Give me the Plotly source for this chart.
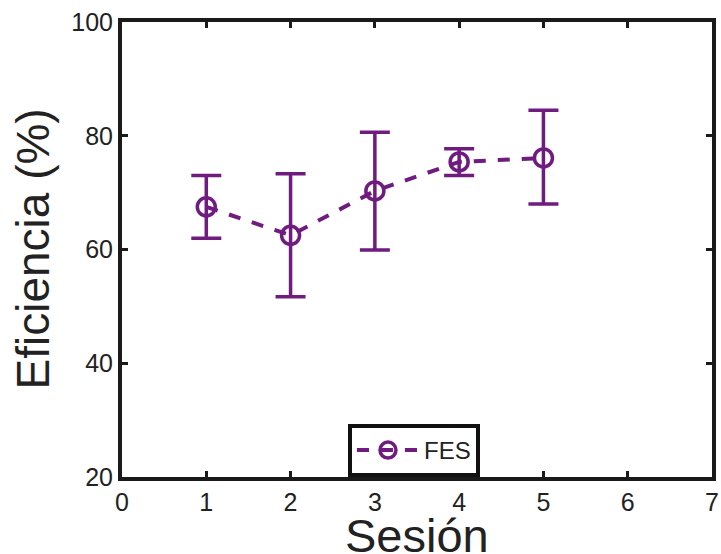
import plotly.graph_objects as go

sessions = [1, 2, 3, 4, 5]
efficiency = [67.5, 62.5, 70.3, 75.4, 76.1]
err_upper = [73.0, 73.3, 80.6, 77.7, 84.5]
err_lower = [62.0, 51.7, 59.9, 73.0, 68.0]
x_ticks = [0, 1, 2, 3, 4, 5, 6, 7]
y_ticks = [20, 40, 60, 80, 100]

color = "#701B80"
font_family = "Liberation Sans, Arial"
plus = [u - m for u, m in zip(err_upper, efficiency)]
minus = [m - l for m, l in zip(efficiency, err_lower)]

fig = go.Figure()
fig.add_trace(go.Scatter(
    x=sessions, y=efficiency, name="FES", mode="lines+markers",
    line=dict(color=color, width=4, dash="dash"),
    marker=dict(symbol="circle-open", size=18, color=color, line=dict(width=3.5, color=color)),
    error_y=dict(type="data", symmetric=False, array=plus, arrayminus=minus,
                 color=color, thickness=3.5, width=15),
))

axis_common = dict(showline=True, linecolor="#1a1a1a", linewidth=4, mirror="allticks",
                   ticks="inside", ticklen=6, tickwidth=3, tickcolor="#1a1a1a",
                   showgrid=False, zeroline=False, automargin=False,
                   tickfont=dict(family=font_family, size=25, color="#222"))

fig.update_layout(
    width=721, height=554,
    margin=dict(l=122, r=9, t=22, b=77),
    paper_bgcolor="white", plot_bgcolor="white",
    showlegend=True,
    legend=dict(x=0.383, y=0.1165, xanchor="left", yanchor="top",
                bordercolor="#111", borderwidth=4, bgcolor="white",
                itemwidth=62, tracegroupgap=0,
                font=dict(family=font_family, size=24, color="#222")),
    xaxis=dict(range=[0, 7], tickvals=x_ticks, ticktext=[str(v) for v in x_ticks],
               **axis_common),
    yaxis=dict(range=[20, 100], tickvals=y_ticks, ticktext=[str(v) for v in y_ticks],
               **axis_common),
    annotations=[
        dict(text="Sesión", xref="paper", yref="paper", x=0.5, y=-0.066,
             xanchor="center", yanchor="top", showarrow=False,
             font=dict(family=font_family, size=47, color="#222")),
        dict(text="Eficiencia (%)", xref="paper", yref="paper", x=-0.1525, y=0.5,
             xanchor="center", yanchor="middle", textangle=-90, showarrow=False,
             font=dict(family=font_family, size=46, color="#222")),
    ],
)

fig.write_html("out.html")
